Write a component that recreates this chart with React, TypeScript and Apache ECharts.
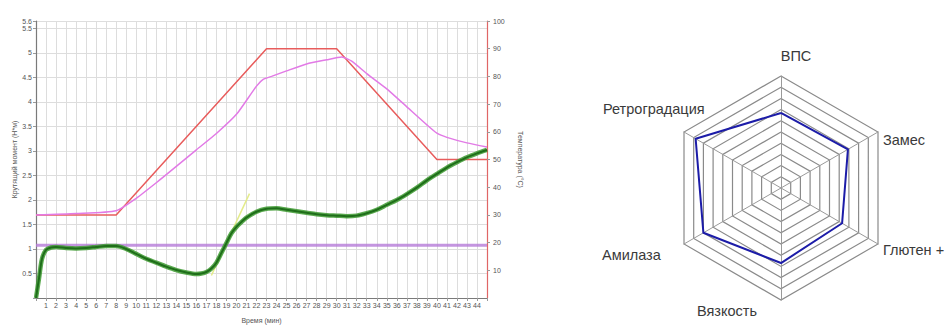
import React, { useEffect, useRef } from "react";
import * as echarts from "echarts";

// ---- Data ----
const xTickLabels: number[] = Array.from({ length: 44 }, (_, i) => i + 1);

// Temperature set profile (°C) – [minute, value]
const setTempTime = [0, 8, 23, 30, 40, 45];
const setTempValue = [30, 30, 90, 90, 50, 50];

// Measured temperature (°C)
const measTempTime = [0, 4, 8, 10, 12, 14, 16, 18, 20, 22, 22.7, 23.5, 25, 27, 29, 30.5, 31.5, 33, 35, 37, 39, 40, 41, 43, 45];
const measTempValue = [30, 30.5, 31.5, 36, 41.6, 47.5, 53.5, 59.4, 66.3, 76.5, 79, 80, 82, 84.5, 86, 87, 85.5, 81, 75.5, 69, 62.5, 59.5, 58, 56, 54.5];

// Torque (N*m)
const torqueTime = [0, 0.3, 0.6, 1, 1.5, 2, 3, 4, 5, 6, 7, 8, 9, 10, 11, 12, 13, 14, 15, 16, 16.5, 17, 17.5, 18, 18.5, 19, 19.5, 20, 20.5, 21, 22, 23, 24, 25, 26, 27, 28, 29, 30, 31, 32, 33, 34, 35, 36, 37, 38, 39, 40, 41, 42, 43, 44, 45];
const torqueValue = [0, 0.4, 0.8, 0.98, 1.03, 1.04, 1.02, 1.01, 1.02, 1.04, 1.06, 1.06, 1.0, 0.9, 0.8, 0.72, 0.64, 0.57, 0.52, 0.49, 0.5, 0.53, 0.6, 0.72, 0.92, 1.12, 1.32, 1.45, 1.55, 1.64, 1.76, 1.82, 1.83, 1.8, 1.77, 1.74, 1.71, 1.69, 1.68, 1.67, 1.68, 1.73, 1.8, 1.9, 2.0, 2.12, 2.25, 2.4, 2.53, 2.66, 2.77, 2.87, 2.95, 3.02];

// Reference level (°C)
const refLevelTime = [0, 45];
const refLevelValue = [19, 19];

// Tangent (N*m)
const tangentTime = [17.5, 21.3];
const tangentValue = [0.46, 2.13];

// Radar
const radarNames = ["ВПС", "Ретроградация", "Амилаза", "Вязкость", "Глютен +", "Замес"];
const radarValues = [6.7, 8.8, 8.0, 6.7, 6.3, 6.9];
const radarMax = 10;

const zip = (a: number[], b: number[]) => a.map((v, i) => [v, b[i]]);

const FONT = "Liberation Sans";

export default function App() {
  const ref = useRef<HTMLDivElement>(null);
  useEffect(() => {
    if (!ref.current) return;
    const chart = echarts.init(ref.current, undefined, { renderer: "svg" });
    const smallText = { fontFamily: FONT, fontSize: 7, color: "#555555" };
    const labelStyle = (x: number, y: number, text: string, align: string = "left") => ({
      type: "text",
      x,
      y,
      style: {
        text,
        fontFamily: FONT,
        fontSize: 14.5,
        fill: "#3a3a3a",
        textAlign: align,
        textVerticalAlign: "middle",
      },
    });
    chart.setOption({
      animation: false,
      backgroundColor: "#ffffff",
      grid: { left: 36, right: 459, top: 21, bottom: 29, containLabel: false },
      xAxis: {
        type: "value",
        min: 0,
        max: 45,
        interval: 1,
        name: "Время (мин)",
        nameLocation: "middle",
        nameGap: 19,
        nameTextStyle: { ...smallText },
        axisLine: { show: true, lineStyle: { color: "#7a7a7a", width: 1 } },
        axisTick: { show: true, length: 3, lineStyle: { color: "#999" } },
        axisLabel: {
          ...smallText,
          margin: 4,
          formatter: (v: number) => (xTickLabels.indexOf(v) >= 0 ? String(v) : ""),
        },
        splitLine: { show: true, lineStyle: { color: "#dddddd", width: 1 } },
      },
      yAxis: [
        {
          type: "value",
          min: 0,
          max: 5.65,
          interval: 0.5,
          name: "Крутящий момент (Н*м)",
          nameLocation: "middle",
          nameRotate: 90,
          nameGap: 18,
          nameTextStyle: { ...smallText },
          axisLine: { show: true, lineStyle: { color: "#7a7a7a", width: 1.2 } },
          axisTick: { show: true, length: 3, lineStyle: { color: "#999" } },
          axisLabel: {
            ...smallText,
            margin: 4,
            formatter: (v: number) => (v === 0 ? "" : v > 5.6 ? "5.6" : String(v)),
          },
          splitLine: { show: true, lineStyle: { color: "#dddddd", width: 1 } },
        },
        {
          type: "value",
          min: 0,
          max: 100,
          interval: 10,
          position: "right",
          name: "Температура (°С)",
          nameLocation: "middle",
          nameRotate: -90,
          nameGap: 30,
          nameTextStyle: { ...smallText },
          axisLine: { show: true, lineStyle: { color: "#e06666", width: 1.2 } },
          axisTick: { show: true, length: 3, lineStyle: { color: "#999" } },
          axisLabel: { ...smallText, margin: 6, showMinLabel: false },
          splitLine: { show: false },
        },
      ],
      radar: {
        center: [781, 188],
        radius: 112,
        startAngle: 90,
        splitNumber: 10,
        shape: "polygon",
        indicator: radarNames.map((n) => ({ name: n, max: radarMax, min: 0 })),
        axisName: { show: false },
        axisLine: { show: true, lineStyle: { color: "#9a9a9a", width: 1 } },
        splitLine: { show: true, lineStyle: { color: "#8a8a8a", width: 1.2 } },
        splitArea: { show: false },
      },
      graphic: [
        labelStyle(796, 56, "ВПС", "center"),
        labelStyle(603, 109, "Ретроградация"),
        labelStyle(883, 140, "Замес"),
        labelStyle(883, 250, "Глютен +"),
        labelStyle(602, 255, "Амилаза"),
        labelStyle(697, 311, "Вязкость"),
      ],
      series: [
        {
          name: "Уровень",
          type: "line",
          yAxisIndex: 1,
          data: zip(refLevelTime, refLevelValue),
          showSymbol: false,
          lineStyle: { color: "#b57ad8", width: 3, opacity: 0.8 },
          z: 2,
        },
        {
          name: "Заданная температура",
          type: "line",
          yAxisIndex: 1,
          data: zip(setTempTime, setTempValue),
          showSymbol: false,
          lineStyle: { color: "#e85c5c", width: 1.5 },
          z: 3,
        },
        {
          name: "Температура",
          type: "line",
          yAxisIndex: 1,
          data: zip(measTempTime, measTempValue),
          showSymbol: false,
          smooth: 0.2,
          lineStyle: { color: "#e27ae6", width: 1.5 },
          z: 3,
        },
        {
          name: "Касательная",
          type: "line",
          yAxisIndex: 0,
          data: zip(tangentTime, tangentValue),
          showSymbol: false,
          lineStyle: { color: "#e4ec8a", width: 1.5 },
          z: 3,
        },
        {
          name: "Крутящий момент фон",
          type: "line",
          yAxisIndex: 0,
          data: zip(torqueTime, torqueValue),
          showSymbol: false,
          smooth: 0.3,
          lineStyle: { color: "#3d9a30", width: 4.5, opacity: 0.85 },
          z: 4,
        },
        {
          name: "Крутящий момент",
          type: "line",
          yAxisIndex: 0,
          data: zip(torqueTime, torqueValue),
          showSymbol: false,
          smooth: 0.3,
          lineStyle: { color: "#1f6e1a", width: 2 },
          z: 5,
        },
        {
          name: "Профиль",
          type: "radar",
          symbol: "none",
          data: [{ value: radarValues, name: "Профиль" }],
          lineStyle: { color: "#1c1ca8", width: 2 },
          areaStyle: { opacity: 0 },
          z: 6,
        },
      ],
    });
    return () => chart.dispose();
  }, []);
  return (
    <div
      ref={ref}
      style={{ position: "fixed", left: 0, top: 0, width: 946, height: 329, background: "#fff" }}
    />
  );
}
